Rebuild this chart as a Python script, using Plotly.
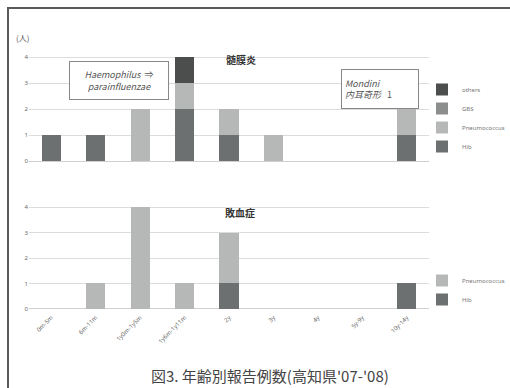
import plotly.graph_objects as go

# Age groups
categories = ["0m-5m", "6m-11m", "1y0m-1y5m", "1y6m-1y11m", "2y", "3y", "4y", "5y-9y", "10y-14y"]
y_ticks = [0, 1, 2, 3, 4]

# Meningitis (髄膜炎) cases by pathogen
men_hib = [1, 1, 0, 2, 1, 0, 0, 0, 1]
men_pneumo = [0, 0, 2, 1, 1, 1, 0, 0, 1]
men_gbs = [0, 0, 0, 0, 0, 0, 0, 0, 0]
men_others = [0, 0, 0, 1, 0, 0, 0, 0, 0]

# Sepsis (敗血症) cases by pathogen
sep_hib = [0, 0, 0, 0, 1, 0, 0, 0, 1]
sep_pneumo = [0, 1, 4, 1, 2, 0, 0, 0, 0]

C_HIB = "#6d7070"
C_PNEU = "#b6b8b8"
C_GBS = "#8c8e8e"
C_OTH = "#4c4e4e"

W, H = 510, 388
ML, MR, MT, MB = 29, 81, 50, 76
PW = W - ML - MR
PH = H - MT - MB


def px(x):
    return (x - ML) / PW


def py(y):
    return (H - MB - y) / PH


fig = go.Figure()

bar_kw = dict(width=0.43, marker_line_width=0)
fig.add_trace(go.Bar(x=categories, y=men_hib, name="Hib", marker_color=C_HIB,
                     xaxis="x", yaxis="y", legend="legend", **bar_kw))
fig.add_trace(go.Bar(x=categories, y=men_pneumo, name="Pneumococcus", marker_color=C_PNEU,
                     xaxis="x", yaxis="y", legend="legend", **bar_kw))
fig.add_trace(go.Bar(x=categories, y=men_gbs, name="GBS", marker_color=C_GBS,
                     xaxis="x", yaxis="y", legend="legend", **bar_kw))
fig.add_trace(go.Bar(x=categories, y=men_others, name="others", marker_color=C_OTH,
                     xaxis="x", yaxis="y", legend="legend", **bar_kw))

fig.add_trace(go.Bar(x=categories, y=sep_hib, name="Hib", marker_color=C_HIB,
                     xaxis="x2", yaxis="y2", legend="legend2", **bar_kw))
fig.add_trace(go.Bar(x=categories, y=sep_pneumo, name="Pneumococcus", marker_color=C_PNEU,
                     xaxis="x2", yaxis="y2", legend="legend2", **bar_kw))

tick_font = dict(family="Noto Sans", size=6, color="#666")
grid = dict(showgrid=True, gridcolor="#dcdcdc", gridwidth=1, zeroline=True,
            zerolinecolor="#d0d0d0", zerolinewidth=1)
legend_font = dict(family="Noto Sans", size=6, color="#777")

fig.update_layout(
    width=W, height=H,
    margin=dict(l=ML, r=MR, t=MT, b=MB, autoexpand=False),
    paper_bgcolor="white", plot_bgcolor="white",
    barmode="stack",
    font=dict(family="Noto Sans CJK JP", color="#444"),
    xaxis=dict(domain=[0, 1], range=[-0.5, 8.5], anchor="y", showticklabels=False,
               showgrid=False, ticks="", automargin=False),
    yaxis=dict(domain=[py(163), py(55)], range=[-0.077, 4.077], tickvals=y_ticks,
               tickfont=tick_font, ticks="", automargin=False, **grid),
    xaxis2=dict(domain=[0, 1], range=[-0.5, 8.5], anchor="y2", tickangle=-45,
                tickfont=dict(family="Noto Sans", size=6, color="#666"),
                showgrid=False, ticks="", automargin=False),
    yaxis2=dict(domain=[0, py(204.5)], range=[-0.118, 4.098], tickvals=y_ticks,
                tickfont=tick_font, ticks="", anchor="x2", automargin=False, **grid),
    legend=dict(x=px(510), y=py(75), xanchor="right", yanchor="top",
                traceorder="reversed", font=legend_font,
                bgcolor="rgba(0,0,0,0)", itemwidth=30, tracegroupgap=0),
    legend2=dict(x=px(510), y=py(266), xanchor="right", yanchor="top",
                 traceorder="reversed", font=legend_font,
                 bgcolor="rgba(0,0,0,0)", itemwidth=30, tracegroupgap=0),
)

# Outer frame
fig.add_shape(type="rect", xref="paper", yref="paper",
              x0=px(8), y0=py(396), x1=px(516), y1=py(8),
              line=dict(color="#5a5a5a", width=2), fillcolor="rgba(0,0,0,0)", layer="above")

anns = [
    dict(x=px(22), y=py(38), text="(人)", size=8, color="#555"),
    dict(x=px(241), y=py(60), text="<b>髄膜炎</b>", size=10, color="#333"),
    dict(x=px(240), y=py(212), text="<b>敗血症</b>", size=10, color="#333"),
    dict(x=px(270), y=py(375), text="図3. 年齢別報告例数(高知県'07-'08)", size=15, color="#444"),
]
for a in anns:
    fig.add_annotation(x=a["x"], y=a["y"], xref="paper", yref="paper", text=a["text"],
                       showarrow=False, xanchor="center", yanchor="middle",
                       font=dict(size=a["size"], color=a["color"], family="Noto Sans CJK JP"))

# Boxed notes
fig.add_annotation(x=px(119), y=py(80.5), xref="paper", yref="paper",
                   text="<i>Haemophilus</i>  ⇒<br><i>parainfluenzae</i>",
                   showarrow=False, xanchor="center", yanchor="middle", align="center",
                   font=dict(size=9, color="#555", family="Noto Sans CJK JP"),
                   bordercolor="#888", borderwidth=1, borderpad=3, bgcolor="white",
                   width=92, height=31)
fig.add_annotation(x=px(380), y=py(89), xref="paper", yref="paper",
                   text="<i>Mondini</i><br><i>内耳奇形</i>   1",
                   showarrow=False, xanchor="center", yanchor="middle", align="left",
                   font=dict(size=9, color="#555", family="Noto Sans CJK JP"),
                   bordercolor="#888", borderwidth=1, borderpad=3, bgcolor="white",
                   width=70, height=32)

fig.write_html("out.html")
